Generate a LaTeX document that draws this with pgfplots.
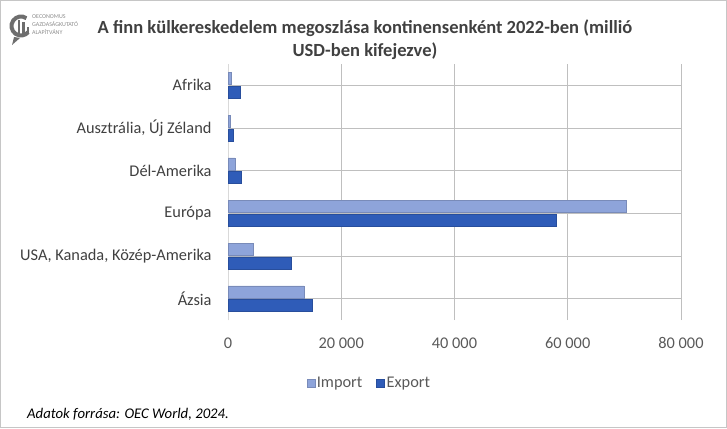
\documentclass[border=0pt]{standalone}
\usepackage{pgfplots}
\pgfplotsset{compat=1.18}
\usepackage{fontspec}
\setmainfont{Carlito}
\definecolor{imp}{HTML}{8EA4DA}
\definecolor{exp}{HTML}{2F5CB8}
\definecolor{txt}{HTML}{595959}
\definecolor{ttl}{HTML}{404040}
\definecolor{grid}{HTML}{D9D9D9}
\definecolor{logo}{HTML}{6E6E6E}
\begin{document}
\begin{tikzpicture}[x=1bp,y=1bp]
\draw[gray!45,line width=1bp] (0.5,0.5) rectangle (726.5,427.5);
% logo
\draw[logo,line width=4bp] (21,402) ++(55:9.5) arc (55:320:9.5);
\fill[logo] (14,391) -- (12,383) -- (20,390) -- cycle;
\fill[logo] (17.5,394) rectangle (20,408);
\fill[logo] (22,394) rectangle (24.5,406);
\fill[logo] (26.5,394) rectangle (29,401);
\node[anchor=west,align=left,text=gray!90,font=\fontsize{6}{8.3}\selectfont,inner sep=0] at (32,403.5) {OECONOMUS\\GAZDASÁGKUTATÓ\\ALAPÍTVÁNY};
% title
\node[align=center,text=ttl,font=\fontsize{18.6}{23.5}\selectfont\bfseries] at (365,388.5) {A finn külkereskedelem megoszlása kontinensenként 2022-ben (millió\\USD-ben kifejezve)};
% source
\node[anchor=west,font=\fontsize{14.8}{17}\selectfont\itshape,inner sep=0] at (27,13.5) {Adatok forrása: OEC World, 2024.};
\begin{axis}[
  at={(228bp,108bp)}, anchor=south west,
  scale only axis, width=453bp, height=256bp,
  xbar, bar width=12bp,
  xmin=0, xmax=80000,
  ymin=-0.5, ymax=5.5,
  ytick={0,1,2,3,4,5},
  yticklabels={Ázsia,{USA, Kanada, Közép-Amerika},Európa,Dél-Amerika,{Ausztrália, Új Zéland},Afrika},
  xtick={0,20000,40000,60000,80000},
  scaled x ticks=false,
  /pgf/number format/assume math mode=true,
  /pgf/number format/1000 sep={\ },
  xmajorgrids, grid style={grid, line width=0.8bp},
  major tick length=0pt,
  axis line style={draw=none},
  axis y line*=left,
  y axis line style={draw=grid, line width=0.8bp},
  tick label style={text=txt, font=\fontsize{16.4}{19}\selectfont},
  xticklabel style={yshift=-14bp},
  yticklabel style={xshift=-13bp, text=ttl},
  legend style={at={(0.312,-0.245)}, anchor=center, draw=none, fill=none,
    legend columns=2, font=\fontsize{16.4}{19}\selectfont, text=txt,
    /tikz/every even column/.append style={column sep=12bp}},
  legend image code/.code={\fill[#1] (0,-4bp) rectangle (8bp,4bp);},
]
\addplot[fill=imp, draw=imp!85!black, line width=0.3bp, bar shift=6.8bp] coordinates {
  (13400,0) (4400,1) (70400,2) (1200,3) (400,4) (500,5)};
\addplot[fill=exp, draw=exp!85!black, line width=0.3bp, bar shift=-6.8bp] coordinates {
  (14900,0) (11100,1) (57900,2) (2300,3) (900,4) (2100,5)};
\legend{Import,Export}
\end{axis}
\end{tikzpicture}
\end{document}
